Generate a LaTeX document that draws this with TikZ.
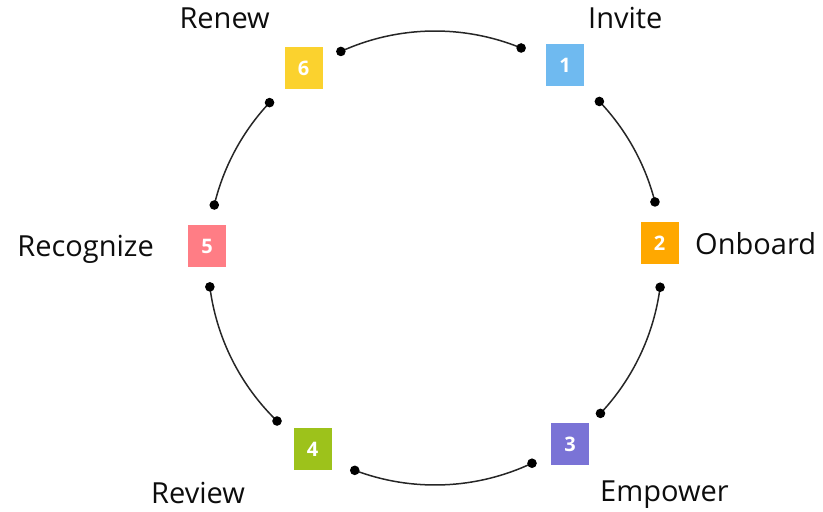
\documentclass[tikz,border=0pt]{standalone}
\usepackage{fontspec}
\setmainfont{Open Sans}
\usetikzlibrary{calc}
\definecolor{cA}{HTML}{6FBAF0}
\definecolor{cB}{HTML}{FFA800}
\definecolor{cC}{HTML}{7A73D6}
\definecolor{cD}{HTML}{9DC21B}
\definecolor{cE}{HTML}{FF7D85}
\definecolor{cF}{HTML}{FBD22E}
\tikzset{
  sq/.style={minimum width=38pt,minimum height=42pt,inner sep=0pt,text=white,
    font=\fontsize{20}{20}\selectfont\bfseries},
  lbl/.style={font=\fontsize{29}{29}\selectfont,inner sep=0pt,text=black!95},
  arcline/.style={line width=1.5pt,black!85},
  dotc/.style={black,radius=4.8pt}
}
\begin{document}
\begin{tikzpicture}[x=1pt,y=-1pt]
\useasboundingbox (0,0) rectangle (823,512);
\coordinate (c) at (435,258);
\def\R{227}
% squares
\node[sq,fill=cA] (s1) at (565,65) {1};
\node[sq,fill=cB] (s2) at (659.5,243) {2};
\node[sq,fill=cC] (s3) at (570,444) {3};
\node[sq,fill=cD] (s4) at (312.5,449) {4};
\node[sq,fill=cE] (s5) at (207,246) {5};
\node[sq,fill=cF] (s6) at (303.5,68) {6};
% labels
\node[lbl,anchor=base west] (l1) at (588,28) {Invite};
\node[lbl,anchor=base west] (l2) at (695,254) {Onboard};
\node[lbl,anchor=base west] (l3) at (600,501) {Empower};
\node[lbl,anchor=base west] (l4) at (151,503) {Review};
\node[lbl,anchor=base east] (l5) at (154,256) {Recognize};
\node[lbl,anchor=base east] (l6) at (270,28) {Renew};
% arc end points
\foreach \n/\a in {a6s/-114.5,a6e/-67.7,a1s/-43.6,a1e/-14.3,a2s/7.4,a2e/43.2,
  a3s/64.7,a3e/110.7,a4s/134.1,a4e/172.7,a5s/193.5,a5e/223.2}
  \coordinate (\n) at ($(c)+(\a:\R)$);
% arcs
\draw[arcline] (a6s) arc[start angle=-114.5,end angle=-67.7,radius=\R];
\draw[arcline] (a1s) arc[start angle=-43.6,end angle=-14.3,radius=\R];
\draw[arcline] (a2s) arc[start angle=7.4,end angle=43.2,radius=\R];
\draw[arcline] (a3s) arc[start angle=64.7,end angle=110.7,radius=\R];
\draw[arcline] (a4s) arc[start angle=134.1,end angle=172.7,radius=\R];
\draw[arcline] (a5s) arc[start angle=193.5,end angle=223.2,radius=\R];
% dots
\foreach \n in {a6s,a6e,a1s,a1e,a2s,a2e,a3s,a3e,a4s,a4e,a5s,a5e}
  \fill[dotc] (\n) circle;
\end{tikzpicture}
\end{document}
